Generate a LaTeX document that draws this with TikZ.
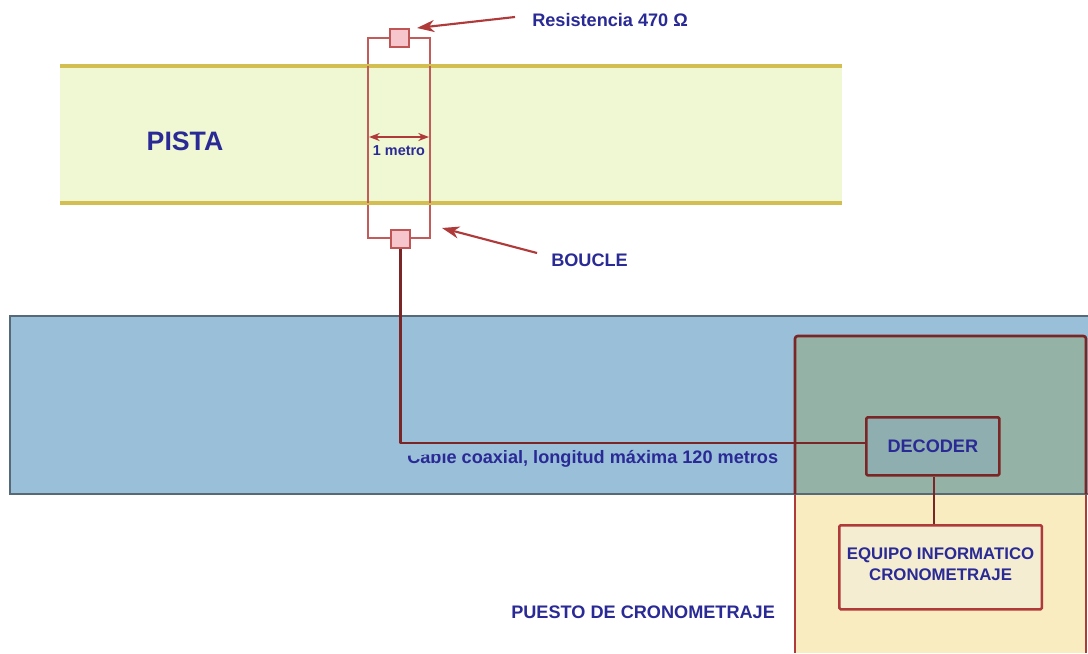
\documentclass[tikz,border=0pt]{standalone}
\usepackage{fontspec}
\setmainfont{Liberation Sans}
\usetikzlibrary{arrows.meta,calc}
\definecolor{bandblue}{HTML}{9ABFD9}
\definecolor{overlap}{HTML}{94B2A5}
\definecolor{station}{HTML}{F9ECC0}
\definecolor{track}{HTML}{EFF7D3}
\definecolor{gold}{HTML}{D3BE52}
\definecolor{wine}{HTML}{7A2626}
\definecolor{wire}{HTML}{B03A3A}
\definecolor{pinkfill}{HTML}{F6C6CC}
\definecolor{ink}{HTML}{2A2A96}
\definecolor{pc}{HTML}{F4EDD2}
\definecolor{dec}{HTML}{8FAEB0}
\tikzset{
  lbl/.style={font=\bfseries\fontsize{#1}{#1}\selectfont,text=ink,inner sep=0pt},
  lbl/.default=11,
  res/.style={draw=wire!80!pink,line width=1.2pt,fill=pinkfill,minimum width=14pt,minimum height=13.5pt,inner sep=0pt},
  pointer/.style={draw=wire,line width=1.6pt,-{Stealth[length=13pt,width=9pt,inset=4pt]}},
  loopline/.style={draw=wire!75!pink,line width=1.1pt},
  heavy/.style={draw=wine,line width=2pt,line join=round},
  box/.style={rounded corners=1pt,inner sep=0pt,anchor=north west}
}
\begin{document}
\begin{tikzpicture}[x=0.75pt,y=-0.75pt]
\useasboundingbox (0,0) rectangle (1088,653);
\fill[white] (0,0) rectangle (1088,653);
% track
\fill[track] (60,66) rectangle (842,203);
% station fill
\fill[station] (795,494) rectangle (1086,653);
% blue band
\fill[bandblue] (10,316) rectangle (1088,494);
\fill[overlap] (795,336) rectangle (1086,494);
\draw[draw=bandblue!55!black,line width=1pt] (1088,316) -- (10,316) -- (10,494) -- (1088,494);
% station outline
\draw[heavy,rounded corners=2pt] (795,494) -- (795,336) -- (1086,336) -- (1086,494);
\draw[draw=wire,line width=1.7pt] (795,495) -- (795,653) (1086,495) -- (1086,653);
% loop
\coordinate (lt) at (368,38);
\coordinate (rb) at (430,238);
\draw[loopline] (lt) rectangle (rb);
\draw[gold,line width=2.6pt] (60,66) -- (842,66);
\draw[gold,line width=2.6pt] (60,203) -- (842,203);
\draw[wire!75!pink,line width=1.1pt] (368,66) -- (368,203) (430,66) -- (430,203);
\node[res] (r1) at (399.5,38) {};
\node[res] (r2) at (400.5,239) {};
% label nodes
\node[lbl=13.6,anchor=west] (rlabel) at (532,20) {Resistencia 470 Ω};
\node[lbl=13.6,anchor=west] (blabel) at (551,260) {BOUCLE};
\node[lbl=20] (pista) at (185,141) {PISTA};
\node[lbl=10.8] (metro) at (399,151) {1 metro};
% dimension
\coordinate (dl) at (369,137);
\coordinate (dr) at (429,137);
\draw[draw=wire,line width=1.3pt,{Stealth[length=8pt,width=6pt]}-{Stealth[length=8pt,width=6pt]}] (dl) -- (dr);
% pointers
\coordinate (pa) at (515,17);
\coordinate (pb) at (417,28);
\coordinate (qa) at (537,253);
\coordinate (qb) at (442,228);
\draw[pointer] (pa) -- (pb);
\draw[pointer] (qa) -- (qb);
% coax label, its top edge cut
\node[lbl=13.6,anchor=west] (coax) at (407,459) {Cable coaxial, longitud máxima 120 metros};
\fill[bandblue] (402,445) -- (790,445) -- (790,449) -- (500,450) -- (470,452) -- (402,456) -- cycle;
% boxes
\node[box,heavy,minimum width=99.75pt,minimum height=43.5pt,fill=dec,lbl=13.6,draw=wine] (decoder) at (865,416) {DECODER};
\node[box,draw=wire,line width=1.9pt,minimum width=152pt,minimum height=63pt,fill=pc,lbl=12.6,align=center,text depth=4.5pt] (equipo) at (838,524) {EQUIPO INFORMATICO\\[3.4pt]CRONOMETRAJE};
\node[lbl=13.6,anchor=west] (puesto) at (511,612) {PUESTO DE CRONOMETRAJE};
% connectors
\coordinate (wy) at (0,443);
\draw[heavy] (r2.south) -- (r2.south |- wy) -- (decoder.west |- wy);
\coordinate (vx) at (934,0);
\draw[draw=wine,line width=2pt] (vx |- decoder.south) -- (vx |- equipo.north);
\end{tikzpicture}
\end{document}
